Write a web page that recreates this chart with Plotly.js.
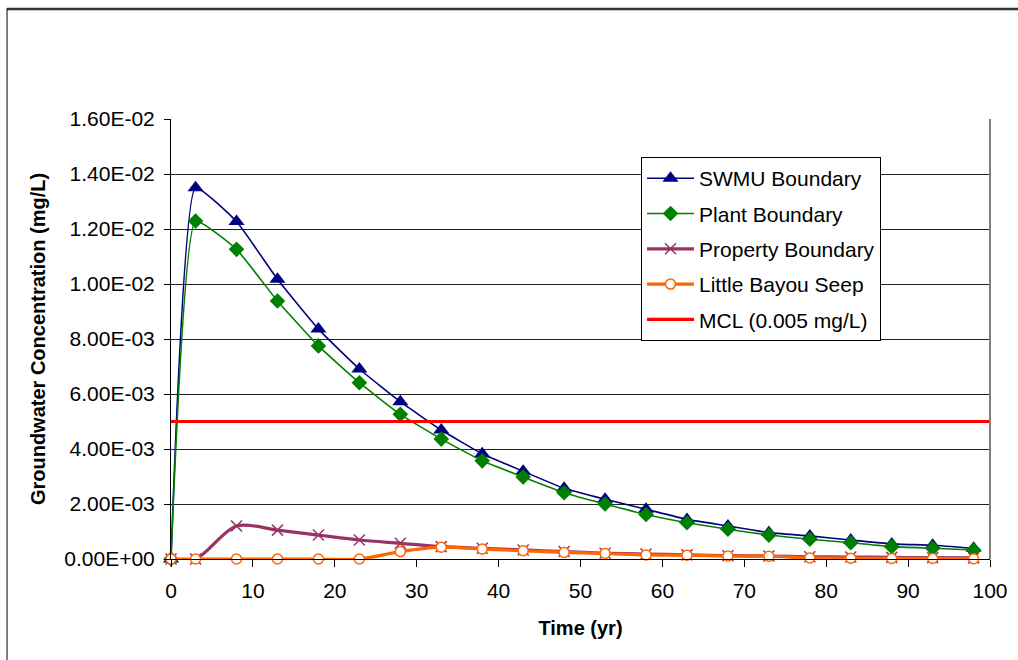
<!DOCTYPE html>
<html>
<head>
<meta charset="utf-8">
<script src="https://cdn.plot.ly/plotly-3.0.1.min.js"></script>
<style>
html,body{margin:0;padding:0;background:#fff;}
#chart{width:1018px;height:660px;}
</style>
</head>
<body>
<div id="chart"></div>
<script>
// ---- data ----
const years = [0, 3, 8, 13, 18, 23, 28, 33, 38, 43, 48, 53, 58, 63, 68, 73, 78, 83, 88, 93, 98];
const swmuBoundary = [0, 0.01350, 0.01227, 0.01017, 0.00836, 0.00691, 0.00572, 0.00469, 0.00383, 0.00319, 0.00257, 0.00217, 0.00181, 0.00144, 0.00120, 0.00096, 0.00084, 0.00069, 0.00055, 0.00050, 0.00039];
const plantBoundary = [0, 0.01229, 0.01126, 0.00938, 0.00775, 0.00641, 0.00526, 0.00436, 0.00357, 0.00298, 0.00241, 0.00200, 0.00162, 0.00132, 0.00108, 0.00087, 0.00072, 0.00059, 0.00045, 0.00039, 0.00033];
const propertyBoundary = [0, 0, 0.00120, 0.00105, 0.00087, 0.00069, 0.00057, 0.00045, 0.00039, 0.00033, 0.00027, 0.00021, 0.00018, 0.00015, 0.00012, 0.00011, 0.00008, 0.00007, 0.00006, 0.00005, 0.00004];
const littleBayouSeep = [0, 0, 0, 0, 0, 0, 0.00027, 0.00043, 0.00036, 0.00030, 0.00024, 0.00020, 0.00015, 0.00014, 0.00011, 0.00010, 0.00004, 0.00003, 0.00002, 0.00002, 0.00001];
const mclX = [0, 100];
const mclY = [0.005, 0.005];
const seriesNames = ["SWMU Boundary", "Plant Boundary", "Property Boundary", "Little Bayou Seep", "MCL (0.005 mg/L)"];
const yTickVals = [0, 0.002, 0.004, 0.006, 0.008, 0.010, 0.012, 0.014, 0.016];
const yTickText = ["0.00E+00", "2.00E-03", "4.00E-03", "6.00E-03", "8.00E-03", "1.00E-02", "1.20E-02", "1.40E-02", "1.60E-02"];
const xTickVals = [0, 10, 20, 30, 40, 50, 60, 70, 80, 90, 100];

const FONT = "Liberation Sans, Arial, sans-serif";

const traces = [
  {x: years, y: swmuBoundary, name: seriesNames[0], legendgroup: "a",
   mode: "lines+markers", line: {color: "#000080", width: 1.6, shape: "spline", smoothing: 0.4},
   marker: {symbol: "triangle-up", size: 14, color: "#000080"}, cliponaxis: false},
  {x: years, y: plantBoundary, name: seriesNames[1], legendgroup: "b",
   mode: "lines+markers", line: {color: "#008000", width: 1.6, shape: "spline", smoothing: 0.4},
   marker: {symbol: "diamond", size: 12, color: "#008000"}, cliponaxis: false},
  {x: years, y: propertyBoundary, name: seriesNames[2], legendgroup: "c",
   mode: "lines+markers", line: {color: "#993366", width: 3.2, shape: "spline", smoothing: 0.9},
   marker: {symbol: "x-thin-open", size: 11, color: "#993366", line: {color: "#993366", width: 1.5}}, cliponaxis: false},
  {x: years, y: littleBayouSeep, name: seriesNames[3], legendgroup: "d",
   mode: "lines+markers", line: {color: "#FF6600", width: 3.2, shape: "spline", smoothing: 0.9},
   marker: {symbol: "circle", size: 10, color: "#FFFFFF", line: {color: "#FF6600", width: 1.5}}, cliponaxis: false},
  {x: mclX, y: mclY, name: seriesNames[4], legendgroup: "e",
   mode: "lines", line: {color: "#FF0000", width: 3.2}, cliponaxis: false}
];

const layout = {
  width: 1018, height: 660,
  margin: {l: 171, r: 28, t: 119, b: 101},
  paper_bgcolor: "#FFFFFF", plot_bgcolor: "#FFFFFF",
  font: {family: FONT, size: 21, color: "#000"},
  showlegend: true,
  legend: {
    x: 0.5739, y: 0.9135, xanchor: "left", yanchor: "top",
    bgcolor: "#FFFFFF", bordercolor: "#000", borderwidth: 1,
    font: {family: FONT, size: 21, color: "#000"},
    traceorder: "grouped", tracegroupgap: 5, itemwidth: 47
  },
  xaxis: {
    range: [0, 100], tickvals: xTickVals, ticks: "outside", ticklen: 7, tickcolor: "#000",
    showline: true, linecolor: "#000", linewidth: 1, showgrid: false, zeroline: false,
    tickfont: {family: FONT, size: 21}, ticklabelstandoff: 6,
    title: {text: "<b>Time (yr)</b>", font: {family: FONT, size: 20}, standoff: 19},
    automargin: false
  },
  yaxis: {
    range: [0, 0.016], tickvals: yTickVals, ticktext: yTickText, ticks: "outside", ticklen: 6, tickcolor: "#000",
    showline: true, linecolor: "#000", linewidth: 1, showgrid: true, gridcolor: "#222", gridwidth: 1, zeroline: false,
    tickfont: {family: FONT, size: 21}, ticklabelstandoff: 5,
    title: {text: "<b>Groundwater Concentration (mg/L)</b>", font: {family: FONT, size: 20}, standoff: 13},
    automargin: false
  },
  shapes: [
    {type: "line", xref: "paper", yref: "paper", x0: 1, x1: 1, y0: 0, y1: 1, line: {color: "#808080", width: 2}},
    {type: "line", xref: "paper", yref: "paper", x0: -0.2002, x1: 1.05, y0: 1.2500, y1: 1.2500, line: {color: "#333", width: 2.5}},
    {type: "line", xref: "paper", yref: "paper", x0: -0.2002, x1: -0.2002, y0: 1.2511, y1: -0.3, line: {color: "#000", width: 1}}
  ]
};

Plotly.newPlot("chart", traces, layout, {staticPlot: true, displayModeBar: false});
</script>
</body>
</html>
